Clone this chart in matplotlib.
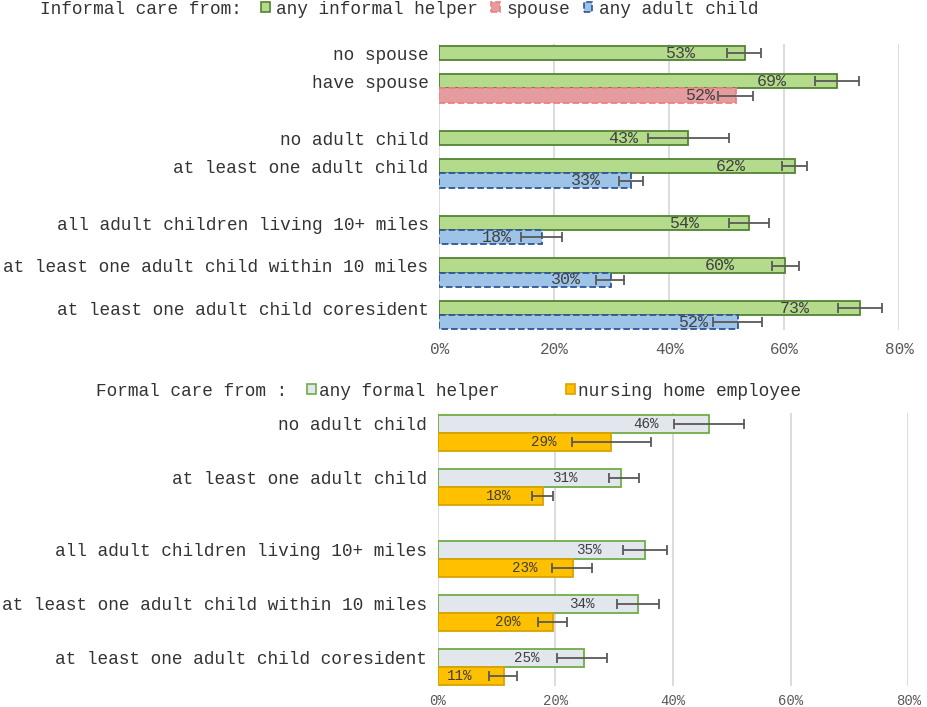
import numpy as np
import matplotlib
matplotlib.use('Agg')
import matplotlib.pyplot as plt
from matplotlib.patches import Patch

plt.rcParams['font.family'] = ['Liberation Mono', 'DejaVu Sans Mono']

# --- top panel: informal care ---
top_labels = ['no spouse', 'have spouse', 'no adult child', 'at least one adult child',
              'all adult children living 10+ miles',
              'at least one adult child within 10 miles',
              'at least one adult child coresident']
informal_any = np.array([0.531, 0.692, 0.432, 0.619, 0.538, 0.601, 0.731])
informal_lo = np.array([0.500, 0.654, 0.363, 0.596, 0.504, 0.578, 0.693])
informal_hi = np.array([0.560, 0.730, 0.503, 0.640, 0.573, 0.625, 0.770])

spouse_cats = ['have spouse']
spouse_val = np.array([0.516])
spouse_lo = np.array([0.485])
spouse_hi = np.array([0.545])

child_cats = ['at least one adult child', 'all adult children living 10+ miles',
              'at least one adult child within 10 miles',
              'at least one adult child coresident']
child_val = np.array([0.333, 0.178, 0.298, 0.519])
child_lo = np.array([0.312, 0.142, 0.273, 0.476])
child_hi = np.array([0.354, 0.213, 0.321, 0.561])

# --- bottom panel: formal care ---
bot_labels = ['no adult child', 'at least one adult child',
              'all adult children living 10+ miles',
              'at least one adult child within 10 miles',
              'at least one adult child coresident']
formal_any = np.array([0.461, 0.312, 0.353, 0.341, 0.248])
formal_lo = np.array([0.402, 0.291, 0.315, 0.305, 0.203])
formal_hi = np.array([0.521, 0.342, 0.390, 0.376, 0.288])
nursing = np.array([0.294, 0.179, 0.230, 0.196, 0.113])
nursing_lo = np.array([0.228, 0.160, 0.195, 0.171, 0.088])
nursing_hi = np.array([0.363, 0.196, 0.263, 0.219, 0.135])

xticks = [0, 0.2, 0.4, 0.6, 0.8]
xticklabels = ['0%', '20%', '40%', '60%', '80%']

# layout: row slots (one slot = one bar height)
top_slot = [0, 2, 6, 8, 12, 15, 18]
bot_slot = [0, 3, 7, 10, 13]

GREEN, GREEN_E = '#b4da8c', '#548235'
RED, RED_E = '#e49c9e', '#f07f82'
BLUE, BLUE_E = '#9dc3e6', '#2f5597'
GREY, GREY_E = '#e2e6ed', '#70ad47'
GOLD, GOLD_E = '#ffc000', '#d9a300'
ERR = '#595959'
TXT = '#404040'

W, H = 928, 707
fig = plt.figure(figsize=(W / 100, H / 100), dpi=100)


def px_axes(left, top, right, bottom):
    return fig.add_axes([left / W, 1 - bottom / H, (right - left) / W, (bottom - top) / H])


def style(ax, slots, labels, ylim, tick_size, xpad):
    ax.set_xlim(0, 0.8)
    ax.set_ylim(*ylim)
    ax.set_xticks(xticks)
    ax.set_xticklabels(xticklabels, fontsize=tick_size, color='#595959')
    ax.set_yticks(slots)
    ax.set_yticklabels(labels, fontsize=12.8, color='#333333')
    ax.tick_params(axis='both', length=0)
    ax.tick_params(axis='y', pad=8)
    ax.tick_params(axis='x', pad=xpad)
    ax.grid(axis='x', color='#d9d9d9', linewidth=1.3)
    ax.set_axisbelow(True)
    for s in ax.spines.values():
        s.set_visible(False)


def draw(ax, y, vals, lo, hi, fc, ec, ls, lab_off, lab_size, err_gap=None):
    ax.barh(y, vals, height=1.0, color=fc, edgecolor=ec, linewidth=1.3, linestyle=ls, zorder=2)
    ax.errorbar(vals, y, xerr=[vals - lo, hi - vals], fmt='none', ecolor=ERR,
                elinewidth=1.3, capsize=3.5, capthick=1.3, zorder=3)
    px_per_x = ax.transData.transform((1, 0))[0] - ax.transData.transform((0, 0))[0]
    for v, l, yy in zip(vals, lo, y):
        off = lab_off
        if err_gap is not None:
            # keep the label clear of the error bar's lower whisker
            off = min(lab_off, (l - v) * px_per_x - err_gap)
        ax.annotate(f'{round(v * 100):d}%', (v, yy), xytext=(off, 0),
                    textcoords='offset pixels', ha='right', va='center',
                    fontsize=lab_size, color=TXT, zorder=4)


# top
ax1 = px_axes(439.5, 43.8, 899.3, 330)
style(ax1, top_slot, top_labels, (19.55, -0.65), 11.5, 8.5)
ty = np.array(top_slot, dtype=float)
draw(ax1, ty, informal_any, informal_lo, informal_hi, GREEN, GREEN_E, '-', -50, 12)
sy = np.array([top_slot[top_labels.index(c)] + 1 for c in spouse_cats], dtype=float)
draw(ax1, sy, spouse_val, spouse_lo, spouse_hi, RED, RED_E, '--', -21, 12)
cy = np.array([top_slot[top_labels.index(c)] + 1 for c in child_cats], dtype=float)
draw(ax1, cy, child_val, child_lo, child_hi, BLUE, BLUE_E, '--', -30, 12)

fig.text(40 / W, 1 - 9 / H, 'Informal care from:', fontsize=12.8, color='#333333',
         ha='left', va='center')
h1 = [Patch(facecolor=GREEN, edgecolor=GREEN_E, linewidth=1.2),
      Patch(facecolor=RED, edgecolor=RED_E, linewidth=1.2, linestyle='--'),
      Patch(facecolor=BLUE, edgecolor=BLUE_E, linewidth=1.2, linestyle='--')]
fig.legend(h1, ['any informal helper', 'spouse', 'any adult child'], loc='center left',
           bbox_to_anchor=(261 / W, 1 - 9 / H), ncol=3, frameon=False, fontsize=12.8,
           handlelength=0.5, handleheight=0.5, handletextpad=0.35, columnspacing=0.75,
           borderpad=0, borderaxespad=0, labelcolor='#333333')

# bottom
ax2 = px_axes(437.7, 413.2, 908.3, 685.9)
style(ax2, bot_slot, bot_labels, (14.55, -0.6), 10, 6)
by = np.array(bot_slot, dtype=float)
draw(ax2, by, formal_any, formal_lo, formal_hi, GREY, GREY_E, '-', -44, 10.3, err_gap=15)
draw(ax2, by + 1, nursing, nursing_lo, nursing_hi, GOLD, GOLD_E, '-', -32, 10.3, err_gap=15)

fig.text(96 / W, 1 - 391 / H, 'Formal care from :', fontsize=12.8, color='#333333',
         ha='left', va='center')
h2 = [Patch(facecolor=GREY, edgecolor=GREY_E, linewidth=1.2),
      Patch(facecolor=GOLD, edgecolor=GOLD_E, linewidth=1.2)]
fig.legend(h2, ['any formal helper', 'nursing home employee'], loc='center left',
           bbox_to_anchor=(307 / W, 1 - 391 / H), ncol=2, frameon=False, fontsize=12.8,
           handlelength=0.5, handleheight=0.5, handletextpad=0.2, columnspacing=3.7,
           borderpad=0, borderaxespad=0, labelcolor='#333333')

fig.savefig('out.png', dpi=100)
